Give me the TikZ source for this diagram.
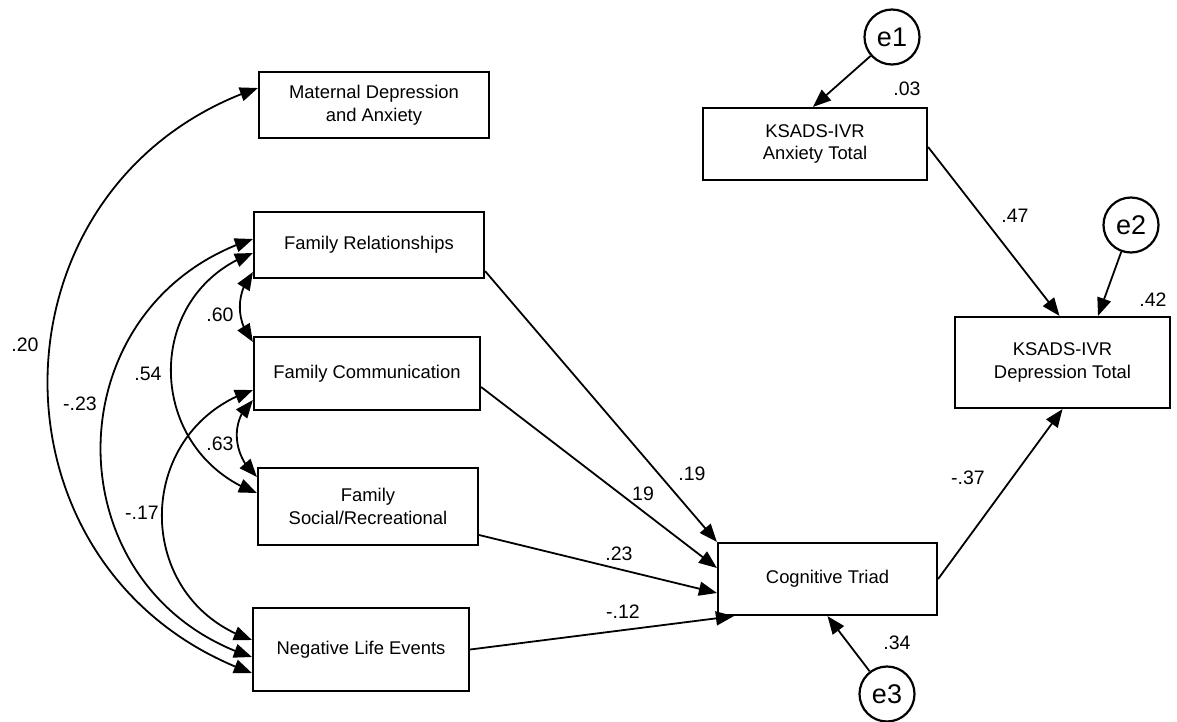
\documentclass[tikz,border=0pt]{standalone}
\usepackage{fontspec}
\setmainfont{Liberation Sans}
\usetikzlibrary{arrows.meta,bending}
\begin{document}
\begin{tikzpicture}[x=1pt,y=-1pt,
  boxvar/.style={draw,line width=2.2pt,inner sep=0pt,align=center,font=\fontsize{18.4}{22.5}\selectfont},
  errvar/.style={draw,circle,line width=2.2pt,minimum size=55pt,inner sep=0pt,font=\fontsize{27}{30}\selectfont},
  onearrow/.style={line width=1.8pt,-{Triangle[length=18pt,width=14pt]}},
  twoarrow/.style={line width=1.8pt,{Triangle[length=18pt,width=14pt]}-{Triangle[length=18pt,width=14pt]}},
  coef/.style={inner sep=0pt,font=\fontsize{19.5}{22}\selectfont}]
\path[use as bounding box] (0,0) rectangle (1177,721);

% variables
\node[boxvar,minimum width=230pt,minimum height=66pt] (mat) at (374,105) {Maternal Depression\\and Anxiety};
\node[boxvar,minimum width=230pt,minimum height=66pt] (rel) at (369,245) {Family Relationships};
\node[boxvar,minimum width=226pt,minimum height=73pt] (com) at (367,373.5) {Family Communication};
\node[boxvar,minimum width=220pt,minimum height=77pt] (soc) at (368,506.5) {Family\\Social/Recreational};
\node[boxvar,minimum width=216pt,minimum height=83pt] (nle) at (361,649.5) {Negative Life Events};
\node[boxvar,minimum width=219pt,minimum height=72pt] (cog) at (827.5,579) {Cognitive Triad};
\node[boxvar,minimum width=224pt,minimum height=72pt] (anx) at (815,144) {KSADS-IVR\\Anxiety Total};
\node[boxvar,minimum width=215pt,minimum height=91pt] (dep) at (1062.5,362.5) {KSADS-IVR\\Depression Total};
\node[errvar] (e1) at (892,37) {e1};
\node[errvar] (e2) at (1131,225) {e2};
\node[errvar] (e3) at (887,694) {e3};

% directed paths
\draw[onearrow] (e1) -- ([xshift=-2pt]anx.north);
\draw[onearrow] ([yshift=-3pt]anx.east) -- ([xshift=-3pt]dep.north);
\draw[onearrow] (e2) -- ([xshift=35.5pt]dep.north);
\draw[onearrow] (cog.east) -- (dep.south);
\draw[onearrow] (e3) -- (cog.south);
\draw[onearrow] ([yshift=8pt]rel.south east) -- (cog.north west);
\draw[onearrow] ([yshift=-13.5pt]com.east) -- ([yshift=11pt]cog.west);
\draw[onearrow] ([yshift=-28.5pt]soc.east) -- ([yshift=-14pt]cog.west);
\draw[onearrow] (nle.east) -- ([xshift=17pt]cog.south west);

% covariances
\draw[twoarrow] ([yshift=17pt]mat.west) .. controls +(-277,94) and +(-276,-99) .. ([yshift=-23.5pt]nle.west);
\draw[twoarrow] ([yshift=6pt]rel.west) .. controls +(-202.5,65.4) and +(-202.5,-65.4) .. ([yshift=-7.5pt]nle.west);
\draw[twoarrow] ([yshift=-8pt]rel.west) .. controls +(-112,40.8) and +(-112,-40.8) .. ([yshift=13.5pt]soc.west);
\draw[twoarrow] ([yshift=-16.5pt]com.west) .. controls +(-120.7,39.6) and +(-120.7,-39.6) .. ([yshift=9.5pt]nle.west);
\draw[twoarrow] ([yshift=-27pt]rel.west) .. controls +(-17.4,20.1) and +(-17.4,-20.1) .. ([yshift=31.5pt]com.west);
\draw[twoarrow] ([yshift=-26.5pt]com.west) .. controls +(-24,20.1) and +(-24,-20.1) .. ([yshift=29.5pt]soc.west);

% coefficients
\node[coef] (c1) at (692,474) {.19};
\node[coef] (c2) at (643,494) {19};
\node[coef] (c3) at (619,554) {.23};
\node[coef] (c4) at (623,612) {-.12};
\node[coef] (c5) at (897,643) {.34};
\node[coef] (c6) at (968,478) {-.37};
\node[coef] (c7) at (1015,216) {.47};
\node[coef] (c8) at (907,89) {.03};
\node[coef] (c9) at (1153,300) {.42};
\node[coef] (c10) at (25,345) {.20};
\node[coef] (c11) at (80,404) {-.23};
\node[coef] (c12) at (148,374) {.54};
\node[coef] (c13) at (142,513) {-.17};
\node[coef] (c14) at (220,315) {.60};
\node[coef] (c15) at (220,444) {.63};
\end{tikzpicture}
\end{document}
